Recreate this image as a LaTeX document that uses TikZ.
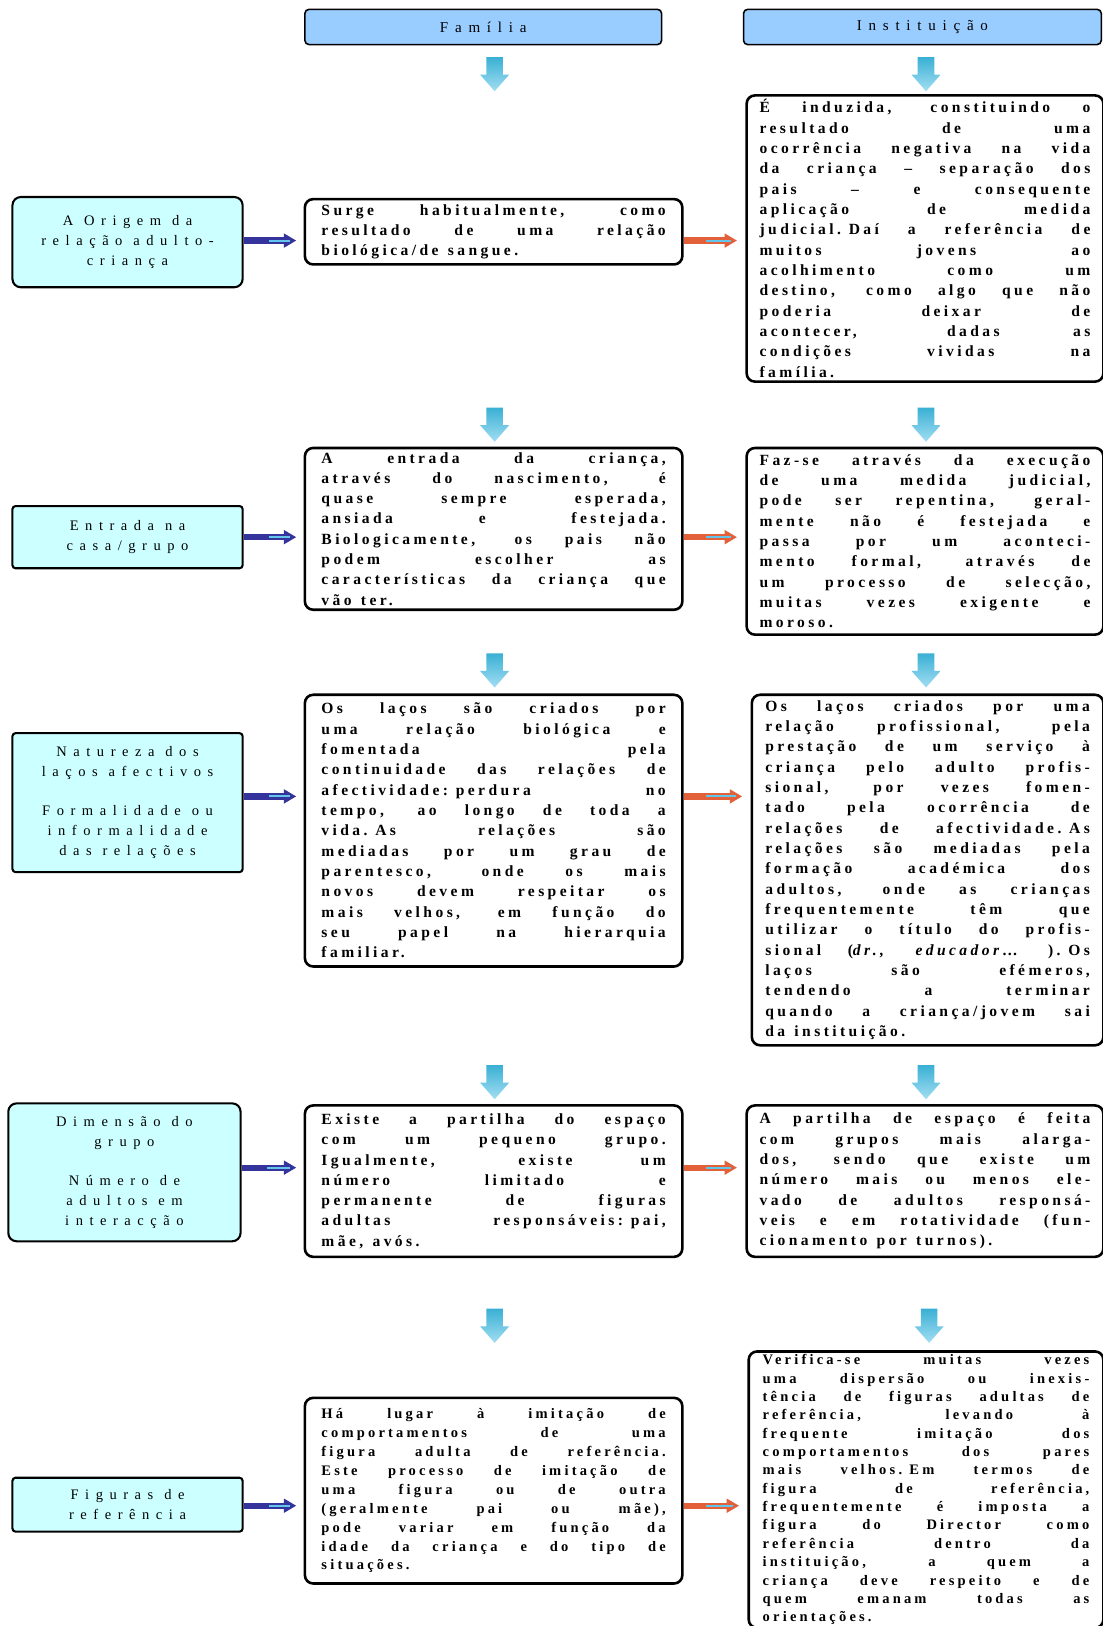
\documentclass[tikz,border=0pt]{standalone}
\usepackage{fontspec}
\setmainfont{Liberation Serif}
\newfontfamily\bodyfont{Liberation Serif}[LetterSpace=22]
\newfontfamily\labelfont{Liberation Serif}[LetterSpace=45]
\usetikzlibrary{arrows.meta}

\definecolor{headfill}{HTML}{99CCFF}
\definecolor{labelfill}{HTML}{CCFFFF}
\definecolor{arrtop}{HTML}{3AB0D4}
\definecolor{arrbot}{HTML}{A2DEF3}
\definecolor{navyarr}{HTML}{34349C}
\definecolor{redarr}{HTML}{E2603A}
\definecolor{streak}{HTML}{62C6EA}

% one justified line / one closing line of a text block
\newcommand\jl[1]{\hbox to\hsize{\spaceskip=0.4em plus 1fill\relax #1}}
\newcommand\el[1]{\hbox to\hsize{\spaceskip=0.6em\relax #1\hfil}}
% word gap in the row labels
\newcommand\gap{\hspace{0.75em}}

\begin{document}
\begin{tikzpicture}[x=1pt,y=-1pt,
  header/.style={draw, line width=1.5pt, rounded corners=4pt, fill=headfill,
    minimum height=34pt, inner sep=0pt, font=\labelfont\fontsize{14.5}{18}\selectfont},
  label/.style={draw, line width=2pt, fill=labelfill, align=center, inner sep=0pt,
    rounded corners=3pt, minimum width=222pt,
    font=\labelfont\fontsize{14}{19}\selectfont},
  textbox/.style={draw, line width=2.5pt, rounded corners=8pt, fill=white, inner sep=0pt,
    font=\bodyfont\bfseries\fontsize{15}{19.6}\selectfont},
  midbox/.style={textbox, minimum width=364pt, text width=332pt},
  rightbox/.style={textbox, minimum width=344pt, text width=319pt},
  bluearr/.style={draw=navyarr, line width=6pt, -{Triangle[width=13pt,length=12pt]},
    shorten >=7pt, postaction={draw=streak, line width=2pt, -, shorten <=24pt, shorten >=13pt}},
  redarr/.style={draw=redarr, line width=6pt, -{Triangle[width=13pt,length=12pt]},
    shorten >=8pt, postaction={draw=streak, line width=2pt, -, shorten <=22pt, shorten >=14pt}},
  darrow/.pic={\shade[top color=arrtop, bottom color=arrbot]
    (-8,0) -- (8,0) -- (8,17) -- (14,17) -- (0,33) -- (-14,17) -- (-8,17) -- cycle;}
]
\fill[white] (0,0) rectangle (1063,1568);
\useasboundingbox (0,0) rectangle (1063,1568);

% column headers
\node[header, minimum width=344pt] (fam) at (466,26) {Família};
\node[header, minimum width=345pt] (inst) at (889.5,26) {Instituição};

% row 1
\node[label, rounded corners=8pt, minimum height=87pt] (l1) at (123,233.5)
  {A\gap Origem\gap da\\relação\gap adulto-\\criança};
\node[midbox, minimum height=63pt] (m1) at (476,223.5) {%
\jl{Surge habitualmente, como}
\jl{resultado de uma relação}
\el{biológica/de sangue.}};
\node[rightbox, minimum height=276pt] (r1) at (892,230) {%
\jl{É induzida, constituindo o}
\jl{resultado de uma}
\jl{ocorrência negativa na vida}
\jl{da criança – separação dos}
\jl{pais – e consequente}
\jl{aplicação de medida}
\jl{judicial. Daí a referência de}
\jl{muitos jovens ao}
\jl{acolhimento como um}
\jl{destino, como algo que não}
\jl{poderia deixar de}
\jl{acontecer, dadas as}
\jl{condições vividas na}
\el{família.}};

% row 2
\node[label, minimum height=60pt] (l2) at (123,518) {Entrada\gap na\\casa/grupo};
\node[midbox, minimum height=156pt] (m2) at (476,510) {%
\jl{A entrada da criança,}
\jl{através do nascimento, é}
\jl{quase sempre esperada,}
\jl{ansiada e festejada.}
\jl{Biologicamente, os pais não}
\jl{podem escolher as}
\jl{características da criança que}
\el{vão ter.}};
\node[rightbox, minimum height=180pt] (r2) at (892,522) {%
\jl{Faz-se através da execução}
\jl{de uma medida judicial,}
\jl{pode ser repentina, geral-}
\jl{mente não é festejada e}
\jl{passa por um aconteci-}
\jl{mento formal, através de}
\jl{um processo de selecção,}
\jl{muitas vezes exigente e}
\el{moroso.}};

% row 3
\node[label, minimum height=134pt] (l3) at (123,774)
  {Natureza\gap dos\\laços\gap afectivos\\[19pt]Formalidade\gap ou\\informalidade\\das\gap relações};
\node[midbox, minimum height=262pt] (m3) at (476,801) {%
\jl{Os laços são criados por}
\jl{uma relação biológica e}
\jl{fomentada pela}
\jl{continuidade das relações de}
\jl{afectividade: perdura no}
\jl{tempo, ao longo de toda a}
\jl{vida. As relações são}
\jl{mediadas por um grau de}
\jl{parentesco, onde os mais}
\jl{novos devem respeitar os}
\jl{mais velhos, em função do}
\jl{seu papel na hierarquia}
\el{familiar.}};
\node[textbox, minimum width=339pt, text width=313pt, minimum height=338pt] (r3) at (894.5,839) {%
\jl{Os laços criados por uma}
\jl{relação profissional, pela}
\jl{prestação de um serviço à}
\jl{criança pelo adulto profis-}
\jl{sional, por vezes fomen-}
\jl{tado pela ocorrência de}
\jl{relações de afectividade. As}
\jl{relações são mediadas pela}
\jl{formação académica dos}
\jl{adultos, onde as crianças}
\jl{frequentemente têm que}
\jl{utilizar o título do profis-}
\jl{sional (\textit{dr., educador…} ). Os}
\jl{laços são efémeros,}
\jl{tendendo a terminar}
\jl{quando a criança/jovem sai}
\el{da instituição.}};

% row 4
\node[label, rounded corners=8pt, minimum width=224pt, minimum height=133pt] (l4) at (120,1130.5)
  {Dimensão\gap do\\grupo\\[19pt]Número\gap de\\adultos\gap em\\interacção};
\node[midbox, minimum height=146pt] (m4) at (476,1139) {%
\jl{Existe a partilha do espaço}
\jl{com um pequeno grupo.}
\jl{Igualmente, existe um}
\jl{número limitado e}
\jl{permanente de figuras}
\jl{adultas responsáveis: pai,}
\el{mãe, avós.}};
\node[rightbox, minimum height=146pt] (r4) at (892,1139) {%
\jl{A partilha de espaço é feita}
\jl{com grupos mais alarga-}
\jl{dos, sendo que existe um}
\jl{número mais ou menos ele-}
\jl{vado de adultos responsá-}
\jl{veis e em rotatividade (fun-}
\el{cionamento por turnos).}};

% row 5
\node[label, minimum height=52pt] (l5) at (123,1451) {Figuras\gap de\\referência};
\node[midbox, minimum height=179pt, font=\bodyfont\bfseries\fontsize{14}{18.25}\selectfont] (m5) at (476,1437.5) {%
\jl{Há lugar à imitação de}
\jl{comportamentos de uma}
\jl{figura adulta de referência.}
\jl{Este processo de imitação de}
\jl{uma figura ou de outra}
\jl{(geralmente pai ou mãe),}
\jl{pode variar em função da}
\jl{idade da criança e do tipo de}
\el{situações.}};
\node[textbox, anchor=north, minimum width=342pt, text width=315pt, inner ysep=3pt,
  font=\bodyfont\bfseries\fontsize{14}{17.7}\selectfont] (r5) at (893,1302) {%
\jl{Verifica-se muitas vezes}
\jl{uma dispersão ou inexis-}
\jl{tência de figuras adultas de}
\jl{referência, levando à}
\jl{frequente imitação dos}
\jl{comportamentos dos pares}
\jl{mais velhos. Em termos de}
\jl{figura de referência,}
\jl{frequentemente é imposta a}
\jl{figura do Director como}
\jl{referência dentro da}
\jl{instituição, a quem a}
\jl{criança deve respeito e de}
\jl{quem emanam todas as}
\el{orientações.}};

% arrow rows
\coordinate (y1) at (0,232);
\coordinate (y2) at (0,518);
\coordinate (y3) at (0,768);
\coordinate (y4) at (0,1126);
\coordinate (y5) at (0,1452);

\draw[bluearr] (l1.east |- y1) -- (m1.west |- y1);
\draw[redarr]  (m1.east |- y1) -- (r1.west |- y1);
\draw[bluearr] (l2.east |- y2) -- (m2.west |- y2);
\draw[redarr]  (m2.east |- y2) -- (r2.west |- y2);
\draw[bluearr] (l3.east |- y3) -- (m3.west |- y3);
\draw[redarr]  (m3.east |- y3) -- (r3.west |- y3);
\draw[bluearr] (l4.east |- y4) -- (m4.west |- y4);
\draw[redarr]  (m4.east |- y4) -- (r4.west |- y4);
\draw[bluearr] (l5.east |- y5) -- (m5.west |- y5);
\draw[redarr]  (m5.east |- y5) -- (r5.west |- y5);

% downward pointers above each column block
\coordinate (fa1) at (477,55);   \coordinate (ia1) at (893,55);
\coordinate (fa2) at (477,393);  \coordinate (ia2) at (893,393);
\coordinate (fa3) at (477,630);  \coordinate (ia3) at (893,630);
\coordinate (fa4) at (477,1027); \coordinate (ia4) at (893,1027);
\coordinate (fa5) at (477,1262); \coordinate (ia5) at (896,1262);
\foreach \c in {fa1,ia1,fa2,ia2,fa3,ia3,fa4,ia4,fa5,ia5}
  \pic at (\c) {darrow};
\end{tikzpicture}
\end{document}
